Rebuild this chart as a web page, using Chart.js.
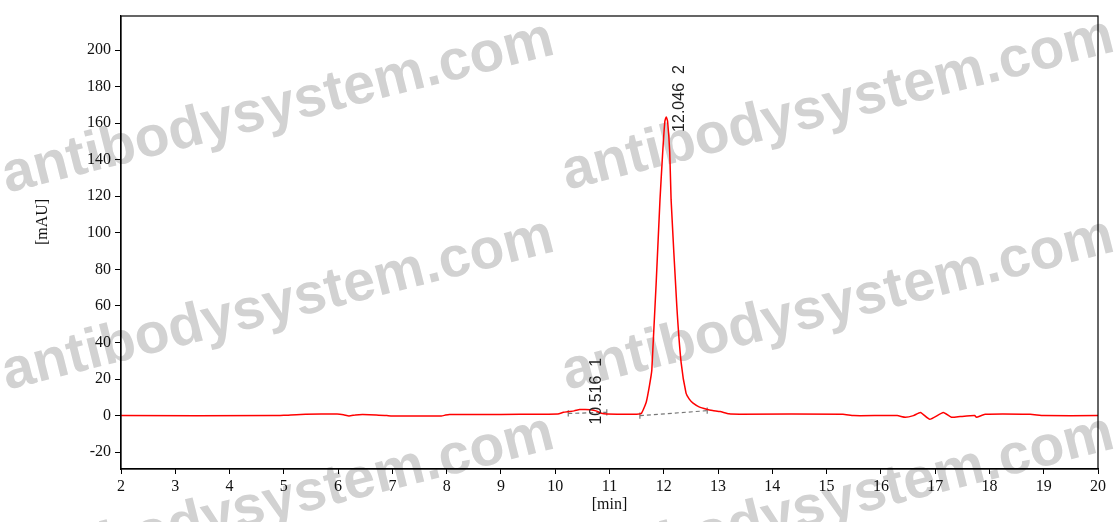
<!DOCTYPE html>
<html>
<head>
<meta charset="utf-8">
<script src="https://cdn.jsdelivr.net/npm/chart.js@4.4.1/dist/chart.umd.min.js"></script>
<style>
    html, body { margin: 0; padding: 0; background: #fff; }
    #wrap { width: 1115px; height: 522px; position: relative; }
</style>
</head>
<body>
<div id="wrap"><canvas id="chromatogram"></canvas></div>
<script>
// retention time [min] and detector signal [mAU]
const timeMin = [2.0, 4.8, 5.0, 5.4, 5.98, 6.1, 6.2, 6.32, 6.45, 6.7, 6.9, 7.0, 7.9, 7.98, 8.05, 9.0, 9.7,
    10.05, 10.15, 10.25, 10.35, 10.45, 10.55, 10.65, 10.75, 10.85, 10.95, 11.5, 11.59, 11.68,
    11.78, 11.93, 11.98, 12.02, 12.046, 12.07, 12.11, 12.135, 12.24, 12.32, 12.41,
    12.47, 12.54, 12.65, 12.79, 12.9, 13.04, 13.2, 13.4, 15.3, 15.5, 16.3, 16.45, 16.6, 16.73, 16.9, 17.15,
    17.3, 17.46, 17.73, 17.76, 17.92, 18.75, 19.0, 20.0];
const signalMAU = [0, 0, 0.2, 0.8, 0.9, 0.5, -0.2, 0.4, 0.6, 0.4, 0.0, -0.2, -0.2, 0.3, 0.6, 0.6, 0.8,
    0.9, 1.8, 2.2, 2.6, 3.3, 3.4, 3.2, 2.6, 1.3, 0.9, 0.8, 1.3, 7.7,
    25, 118, 144, 161, 163.4, 161, 144, 118, 60, 29, 12.3,
    9, 6.8, 4.8, 3.5, 2.8, 2.2, 1.0, 0.8, 0.8, 0.0, 0.0, -0.9, 0.0, 1.7, -2.0, 1.7,
    -0.9, -0.5, 0.0, -0.9, 0.7, 0.7, 0.0, 0.0];

// integrated peaks
const peakTimes = [10.516, 12.046];
const peakHeights = [3.3, 163.4];
const peakNumbers = [1, 2];

// integration baselines (start/end of each peak)
const baseStartT = [10.24, 11.56];
const baseStartV = [1.2, 0.0];
const baseEndT = [10.95, 12.80];
const baseEndV = [1.8, 2.7];

const xTicks = [2, 3, 4, 5, 6, 7, 8, 9, 10, 11, 12, 13, 14, 15, 16, 17, 18, 19, 20];
const yTicks = [-20, 0, 20, 40, 60, 80, 100, 120, 140, 160, 180, 200];

const serif = "'Liberation Serif', 'Times New Roman', serif";
const sans = "'Liberation Sans', Arial, sans-serif";

Chart.defaults.font.family = serif;
Chart.defaults.font.size = 16;
Chart.defaults.color = '#111';

const datasets = [{
    data: timeMin.map((t, i) => ({ x: t, y: signalMAU[i] })),
    borderColor: '#ff0000',
    borderWidth: 1.5,
    pointRadius: 0,
    tension: 0.15,
    order: 0
}];

baseStartT.forEach((t, i) => {
    datasets.push({
        data: [{ x: t, y: baseStartV[i] }, { x: baseEndT[i], y: baseEndV[i] }],
        borderColor: '#777',
        borderWidth: 1.2,
        borderDash: [4, 3],
        pointRadius: 0,
        order: 1
    });
    [[t, baseStartV[i]], [baseEndT[i], baseEndV[i]]].forEach(([bt, bv]) => {
        datasets.push({
            data: [{ x: bt, y: bv - 1.7 }, { x: bt, y: bv + 1.7 }],
            borderColor: '#777',
            borderWidth: 1.2,
            pointRadius: 0,
            order: 1
        });
    });
});

const watermark = {
    id: 'watermark',
    beforeDraw(chart) {
        const ctx = chart.ctx;
        const starts = [[7, 193], [567, 190], [7, 390], [567, 390], [7, 587], [567, 587]];
        ctx.save();
        ctx.fillStyle = '#d2d2d2';
        ctx.font = 'bold 57px ' + sans;
        ctx.textAlign = 'left';
        ctx.textBaseline = 'alphabetic';
        starts.forEach(([x, y]) => {
            ctx.save();
            ctx.translate(x, y);
            ctx.rotate(-14.2 * Math.PI / 180);
            ctx.fillText('antibodysystem.com', 0, 0);
            ctx.restore();
        });
        ctx.restore();
    }
};

const frameAndLabels = {
    id: 'frameAndLabels',
    afterDatasetsDraw(chart) {
        const { ctx, chartArea, scales } = chart;
        ctx.save();
        ctx.strokeStyle = '#000';
        ctx.lineWidth = 1.2;
        ctx.strokeRect(chartArea.left, chartArea.top, chartArea.right - chartArea.left, chartArea.bottom - chartArea.top);

        // peak labels, rotated
        ctx.fillStyle = '#222';
        ctx.font = '16px ' + sans;
        ctx.textAlign = 'left';
        ctx.textBaseline = 'middle';
        peakTimes.forEach((t, i) => {
            const px = scales.x.getPixelForValue(t);
            const py = scales.y.getPixelForValue(peakHeights[i]);
            ctx.save();
            ctx.translate(px + 13, py + 15);
            ctx.rotate(-Math.PI / 2);
            ctx.fillText(t.toFixed(3) + '  ' + peakNumbers[i], 0, 0);
            ctx.restore();
        });

        // y axis title
        ctx.fillStyle = '#111';
        ctx.font = '16px ' + serif;
        ctx.textAlign = 'center';
        ctx.save();
        ctx.translate(43, 222);
        ctx.rotate(-Math.PI / 2);
        ctx.fillText('[mAU]', 0, 0);
        ctx.restore();
        ctx.restore();
    }
};

new Chart(document.getElementById('chromatogram'), {
    type: 'line',
    data: { datasets: datasets },
    options: {
        responsive: true,
        maintainAspectRatio: false,
        animation: false,
        layout: { padding: { left: 0, top: 16, right: 17, bottom: 0 } },
        plugins: {
            legend: { display: false },
            tooltip: { enabled: false }
        },
        scales: {
            x: {
                type: 'linear',
                min: 2,
                max: 20,
                afterBuildTicks: (scale) => { scale.ticks = xTicks.map(v => ({ value: v })); },
                afterFit: (scale) => { scale.height = 53; },
                grid: { display: true, drawOnChartArea: false, drawTicks: true, tickLength: 5, color: '#000' },
                border: { display: true, color: '#000', width: 1.2 },
                ticks: { padding: 3, maxRotation: 0, autoSkip: false, color: '#111' },
                title: { display: true, text: '[min]', padding: { top: 0, bottom: 8 }, color: '#111' }
            },
            y: {
                min: -29.2,
                max: 218.6,
                afterBuildTicks: (scale) => { scale.ticks = yTicks.map(v => ({ value: v })); },
                afterFit: (scale) => { scale.width = 121; },
                grid: { display: true, drawOnChartArea: false, drawTicks: true, tickLength: 6, color: '#000' },
                border: { display: true, color: '#000', width: 1.2 },
                ticks: { padding: 4, autoSkip: false, color: '#111' }
            }
        }
    },
    plugins: [watermark, frameAndLabels]
});
</script>
</body>
</html>
